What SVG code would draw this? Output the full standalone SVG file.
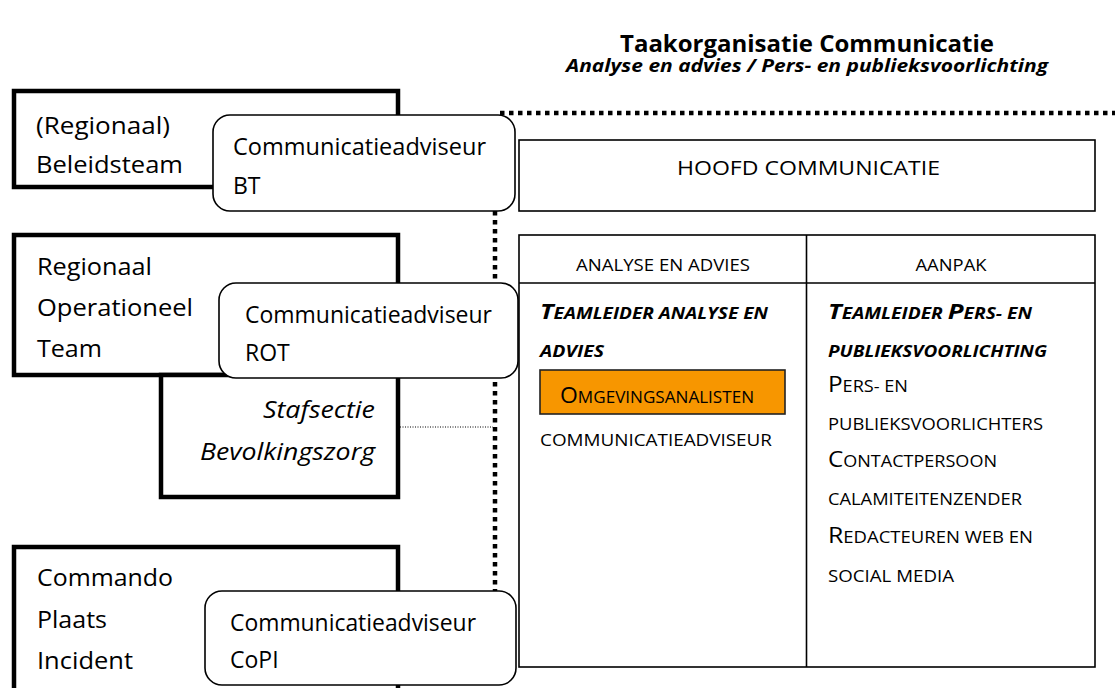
<svg xmlns="http://www.w3.org/2000/svg" width="1115" height="688" viewBox="0 0 1115 688">
<style>
text{font-family:"Open Sans",Lato,"Liberation Sans",sans-serif;fill:#000}
.lbl{font-size:23px}
.thick{fill:#fff;stroke:#000;stroke-width:4.5}
.round{fill:#fff;stroke:#000;stroke-width:1.6}
.thin{fill:none;stroke:#000;stroke-width:1.6}
.hdr{font-size:17px}
.bi{font-weight:bold;font-style:italic}
.big{font-size:21.5px}
.sm{font-size:16px}
.dot{fill:none;stroke:#000;stroke-width:4.5;stroke-dasharray:4.5 4.5}
.fine{fill:none;stroke:#000;stroke-width:1;stroke-dasharray:1 1.5}
</style>
<rect width="1115" height="688" fill="#fff"/>
<g id="title">
<text x="807" y="52" text-anchor="middle" font-size="23" font-weight="bold" textLength="374" lengthAdjust="spacingAndGlyphs">Taakorganisatie Communicatie</text>
<text x="807" y="72" text-anchor="middle" font-size="17.5" class="bi" textLength="482" lengthAdjust="spacingAndGlyphs">Analyse en advies / Pers- en publieksvoorlichting</text>
</g>
<g id="connectors">
<path class="dot" d="M495,211 V591"/>
<path class="dot" d="M500,113 H1115"/>
<path class="fine" d="M400,427 H493"/>
</g>
<g id="bt">
<rect class="thick" x="14" y="91" width="384" height="96"/>
<text class="lbl" x="36" y="134" textLength="134" lengthAdjust="spacingAndGlyphs">(Regionaal)</text>
<text class="lbl" x="36" y="173" textLength="147" lengthAdjust="spacingAndGlyphs">Beleidsteam</text>
</g>
<g id="rot">
<rect class="thick" x="14" y="235" width="384" height="140"/>
<text class="lbl" x="37" y="275" textLength="115" lengthAdjust="spacingAndGlyphs">Regionaal</text>
<text class="lbl" x="37" y="316" textLength="156" lengthAdjust="spacingAndGlyphs">Operationeel</text>
<text class="lbl" x="37" y="357" textLength="65" lengthAdjust="spacingAndGlyphs">Team</text>
</g>
<g id="stafsectie">
<rect class="thick" x="161" y="375" width="237" height="122"/>
<text class="lbl" x="375" y="418" text-anchor="end" font-style="italic" textLength="112" lengthAdjust="spacingAndGlyphs">Stafsectie</text>
<text class="lbl" x="375" y="460" text-anchor="end" font-style="italic" textLength="175" lengthAdjust="spacingAndGlyphs">Bevolkingszorg</text>
</g>
<g id="copi">
<rect class="thick" x="14" y="547" width="384" height="160"/>
<text class="lbl" x="37" y="586" textLength="136" lengthAdjust="spacingAndGlyphs">Commando</text>
<text class="lbl" x="37" y="628" textLength="70" lengthAdjust="spacingAndGlyphs">Plaats</text>
<text class="lbl" x="37" y="669" textLength="96" lengthAdjust="spacingAndGlyphs">Incident</text>
</g>
<g id="adviseur-bt">
<rect class="round" x="213" y="115" width="302" height="96" rx="17"/>
<text class="lbl" x="233" y="155" textLength="253" lengthAdjust="spacingAndGlyphs">Communicatieadviseur</text>
<text class="lbl" x="233" y="194">BT</text>
</g>
<g id="adviseur-rot">
<rect class="round" x="219" y="283" width="299" height="95" rx="17"/>
<text class="lbl" x="245" y="323" textLength="247" lengthAdjust="spacingAndGlyphs">Communicatieadviseur</text>
<text class="lbl" x="245" y="361">ROT</text>
</g>
<g id="adviseur-copi">
<rect class="round" x="205" y="591" width="311" height="94" rx="17"/>
<text class="lbl" x="230" y="631" textLength="246" lengthAdjust="spacingAndGlyphs">Communicatieadviseur</text>
<text class="lbl" x="230" y="668">CoPI</text>
</g>
<g id="hoofd">
<rect class="thin" x="519" y="140" width="576" height="71"/>
<text x="808.5" y="175" text-anchor="middle" font-size="19.5" textLength="263" lengthAdjust="spacingAndGlyphs">HOOFD COMMUNICATIE</text>
</g>
<g id="table">
<rect class="thin" x="519" y="235" width="576" height="432"/>
<path class="thin" d="M519,283 H1095 M806.5,235 V667"/>
</g>
<g id="analyse">
<text class="hdr" x="663" y="271" text-anchor="middle" textLength="174" lengthAdjust="spacingAndGlyphs">ANALYSE EN ADVIES</text>
<text class="bi" x="540" y="319" textLength="228" lengthAdjust="spacingAndGlyphs"><tspan class="big">T</tspan><tspan class="sm">EAMLEIDER ANALYSE EN</tspan></text>
<text class="bi sm" x="540" y="357" textLength="64" lengthAdjust="spacingAndGlyphs">ADVIES</text>
<rect x="540" y="370" width="245" height="44" fill="#F79600" stroke="#222" stroke-width="1.6"/>
<text x="560" y="403" textLength="194" lengthAdjust="spacingAndGlyphs"><tspan class="big">O</tspan><tspan class="sm">MGEVINGSANALISTEN</tspan></text>
<text class="sm" x="540" y="446" textLength="232" lengthAdjust="spacingAndGlyphs">COMMUNICATIEADVISEUR</text>
</g>
<g id="aanpak">
<text class="hdr" x="951" y="271" text-anchor="middle" textLength="71" lengthAdjust="spacingAndGlyphs">AANPAK</text>
<text class="bi" x="828" y="319" textLength="204" lengthAdjust="spacingAndGlyphs"><tspan class="big">T</tspan><tspan class="sm">EAMLEIDER </tspan><tspan class="big">P</tspan><tspan class="sm">ERS- EN</tspan></text>
<text class="bi sm" x="828" y="357" textLength="219" lengthAdjust="spacingAndGlyphs">PUBLIEKSVOORLICHTING</text>
<text x="828" y="392" textLength="80" lengthAdjust="spacingAndGlyphs"><tspan class="big">P</tspan><tspan class="sm">ERS- EN</tspan></text>
<text class="sm" x="828" y="430" textLength="215" lengthAdjust="spacingAndGlyphs">PUBLIEKSVOORLICHTERS</text>
<text x="828" y="467" textLength="169" lengthAdjust="spacingAndGlyphs"><tspan class="big">C</tspan><tspan class="sm">ONTACTPERSOON</tspan></text>
<text class="sm" x="828" y="505" textLength="194" lengthAdjust="spacingAndGlyphs">CALAMITEITENZENDER</text>
<text x="828" y="543" textLength="205" lengthAdjust="spacingAndGlyphs"><tspan class="big">R</tspan><tspan class="sm">EDACTEUREN WEB EN</tspan></text>
<text class="sm" x="828" y="582" textLength="126" lengthAdjust="spacingAndGlyphs">SOCIAL MEDIA</text>
</g>
</svg>
